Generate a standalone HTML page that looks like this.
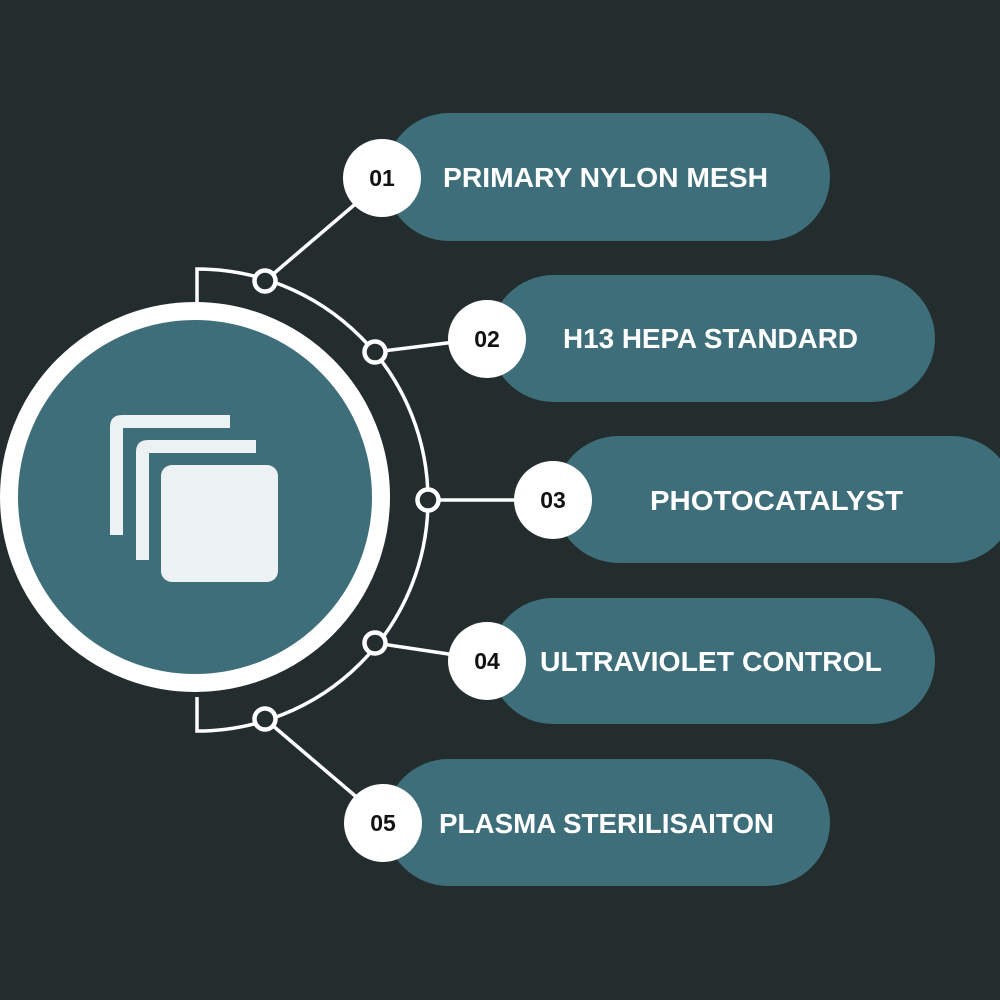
<!DOCTYPE html>
<html><head><style>
body{margin:0;background:#242d2d;}
svg{display:block}
text{font-family:"Liberation Sans",sans-serif;font-weight:bold}
</style></head><body>
<svg width="1000" height="1000" viewBox="0 0 1000 1000">
<rect width="1000" height="1000" fill="#242d2d"/>
<g fill="#3d6e7a">
<rect x="385" y="113" width="445" height="128" rx="64"/>
<rect x="490" y="275" width="445" height="127" rx="63.5"/>
<rect x="555" y="436" width="460" height="127" rx="63.5"/>
<rect x="490" y="598" width="445" height="126" rx="63"/>
<rect x="385" y="759" width="445" height="127" rx="63.5"/>
</g>
<g stroke="#fff" stroke-width="3.5" fill="none">
<path d="M197 303 V269 A231 231 0 0 1 197 731 V697"/>
<line x1="265" y1="281" x2="360" y2="200"/>
<line x1="375" y1="352" x2="455" y2="342"/>
<line x1="428" y1="500" x2="520" y2="500"/>
<line x1="375" y1="643" x2="455" y2="655"/>
<line x1="265" y1="719" x2="360" y2="800"/>
</g>
<g fill="#242d2d" stroke="#fff" stroke-width="4.5">
<circle cx="265" cy="281" r="10.5"/>
<circle cx="375" cy="352" r="10.5"/>
<circle cx="428" cy="500" r="10.5"/>
<circle cx="375" cy="643" r="10.5"/>
<circle cx="265" cy="719" r="10.5"/>
</g>
<circle cx="195" cy="497" r="186" fill="#3d6e7a" stroke="#fff" stroke-width="18"/>
<g fill="#ecf1f3">
<path d="M110 535 V427 Q110 415 122 415 H230 V428 H123 V535 Z"/>
<path d="M136 560 V452 Q136 440 148 440 H256 V453 H149 V560 Z"/>
<rect x="161" y="465" width="117" height="117" rx="11"/>
</g>
<g fill="#fff">
<circle cx="382" cy="178" r="39"/>
<circle cx="487" cy="339" r="39"/>
<circle cx="553" cy="500" r="39"/>
<circle cx="487" cy="661" r="39"/>
<circle cx="383" cy="823" r="39"/>
</g>
<g fill="#111" font-size="23" text-anchor="middle">
<text x="382" y="186">01</text>
<text x="487" y="347">02</text>
<text x="553" y="508">03</text>
<text x="487" y="669">04</text>
<text x="383" y="831">05</text>
</g>
<g fill="#fff" font-size="28">
<text x="443" y="187" textLength="325" lengthAdjust="spacingAndGlyphs">PRIMARY NYLON MESH</text>
<text x="563" y="348" textLength="295" lengthAdjust="spacingAndGlyphs">H13 HEPA STANDARD</text>
<text x="650" y="510" textLength="253" lengthAdjust="spacingAndGlyphs">PHOTOCATALYST</text>
<text x="540" y="671" textLength="342" lengthAdjust="spacingAndGlyphs">ULTRAVIOLET CONTROL</text>
<text x="439" y="833" textLength="335" lengthAdjust="spacingAndGlyphs">PLASMA STERILISAITON</text>
</g>
</svg>
</body></html>
